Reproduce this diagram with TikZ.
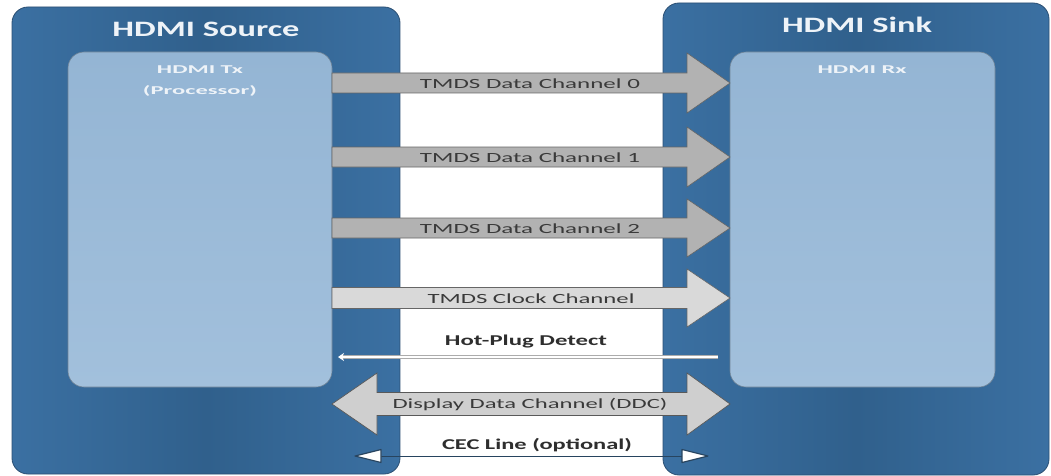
\documentclass[tikz,border=0pt]{standalone}
\usepackage{fontspec}
\setmainfont{Carlito}
\usepackage{graphicx}
\usetikzlibrary{arrows.meta}

\definecolor{outerblue}{HTML}{3B70A2}
\definecolor{outerdark}{HTML}{30608C}
\definecolor{outerline}{HTML}{2B4F73}
\definecolor{innerblue}{HTML}{A2C0DC}
\definecolor{innertop}{HTML}{94B5D4}
\definecolor{innerline}{HTML}{6F8396}
\definecolor{dgray}{HTML}{B2B2B2}
\definecolor{lgray}{HTML}{D9D9D9}
\definecolor{ddcgray}{HTML}{CFCFCF}
\definecolor{txtgray}{HTML}{3A3A3A}
\definecolor{cecblue}{HTML}{27445F}
\definecolor{titlewhite}{HTML}{EEF3F8}

\newcommand{\fitw}[2]{\resizebox{#1}{\height}{#2}}
\newcommand{\rightblock}[5]{% block arrow: y, fill, body half, head half, head base x
  \filldraw[blockline, fill=#2] (tx.east |- 0,#1-#3) -- (#5,#1-#3) -- (#5,#1-#4)
    -- (rx.west |- 0,#1) -- (#5,#1+#4) -- (#5,#1+#3) -- (tx.east |- 0,#1+#3) -- cycle;}

\tikzset{
  outerbox/.style={draw=outerline, line width=0.8pt, rounded corners=16pt,
    left color=outerblue, right color=outerblue, middle color=outerdark,
    inner sep=0pt, outer sep=0pt},
  innerbox/.style={draw=innerline, line width=0.6pt, rounded corners=16pt,
    top color=innertop, bottom color=innerblue, inner sep=0pt, outer sep=0pt},
  blockline/.style={draw=gray!80!black, line width=0.6pt},
  ddcline/.style={draw=black!65, line width=0.7pt},
  cectip/.style={draw=cecblue, fill=white, line width=1.2pt, line join=round},
  titletxt/.style={text=titlewhite, font=\bfseries\fontsize{22}{22}\selectfont, inner sep=0pt},
  subtxt/.style={text=titlewhite, font=\bfseries\fontsize{12}{12}\selectfont, inner sep=0pt},
  chtxt/.style={text=txtgray, font=\fontsize{14}{14}\selectfont, inner sep=0pt},
  boldtxt/.style={text=txtgray!80!black, font=\bfseries\fontsize{15}{15}\selectfont, inner sep=0pt},
}

\begin{document}
\begin{tikzpicture}[x=1pt,y=-1pt]
\path[use as bounding box, fill=white] (0,0) rectangle (1051,476);

% outer boxes
\node[outerbox, minimum width=388pt, minimum height=467pt] (src) at (206,240.5) {};
\node[outerbox, minimum width=386pt, minimum height=472pt] (snk) at (856,239) {};

% titles
\node[titletxt] (srct) at (206,29) {\fitw{187pt}{HDMI Source}};
\node[titletxt] (snkt) at (857,25) {\fitw{150pt}{HDMI Sink}};

% inner boxes
\node[innerbox, minimum width=264pt, minimum height=335pt] (tx) at (200,219.5) {};
\node[innerbox, minimum width=265pt, minimum height=335pt] (rx) at (862.5,219.5) {};

\node[subtxt] (txl1) at (200,70) {\fitw{86pt}{HDMI Tx}};
\node[subtxt] (txl2) at (200,91) {\fitw{114pt}{(Processor)}};
\node[subtxt] (rxl) at (862,70) {\fitw{89pt}{HDMI Rx}};

% TMDS data channels
\rightblock{83}{dgray}{10}{30}{687}
\node[chtxt] (ch0) at (530,84) {\fitw{220pt}{TMDS Data Channel 0}};
\rightblock{157}{dgray}{10}{30}{687}
\node[chtxt] (ch1) at (530,158) {\fitw{220pt}{TMDS Data Channel 1}};
\rightblock{228}{dgray}{10}{29}{687}
\node[chtxt] (ch2) at (530,229) {\fitw{220pt}{TMDS Data Channel 2}};

% clock
\rightblock{298}{lgray}{10.5}{29}{687}
\node[chtxt] (clk) at (531,299) {\fitw{207pt}{TMDS Clock Channel}};

% hot plug detect
\coordinate (hpR) at (718,357);
\coordinate (hpL) at (338,357);
\draw[gray!65, line width=4.4pt] (hpR) -- ([xshift=4pt]hpL);
\draw[white, line width=2.8pt, -{Stealth[length=6pt,width=8pt]}] (hpR) -- (hpL);
\node[boldtxt] (hpd) at (526,342) {\fitw{162pt}{Hot-Plug Detect}};

% DDC
\filldraw[ddcline, fill=ddcgray] (tx.east |- 0,404) -- (377,373) -- (377,392.5) -- (687,392.5)
  -- (687,373) -- (rx.west |- 0,404) -- (687,435) -- (687,415.5) -- (377,415.5) -- (377,435) -- cycle;
\node[chtxt] (ddc) at (530,405) {\fitw{275pt}{Display Data Channel (DDC)}};

% CEC
\coordinate (cecL) at (355,456);
\coordinate (cecR) at (708,456);
\draw[cecblue, line width=1pt] (cecL) -- (cecR);
\filldraw[cectip] (cecL) -- ([shift={(26,-6.5)}]cecL) -- ([shift={(26,6.5)}]cecL) -- cycle;
\filldraw[cectip] (cecR) -- ([shift={(-26,-6.5)}]cecR) -- ([shift={(-26,6.5)}]cecR) -- cycle;
\node[boldtxt] (cec) at (537,445) {\fitw{190pt}{CEC Line (optional)}};
\end{tikzpicture}
\end{document}
